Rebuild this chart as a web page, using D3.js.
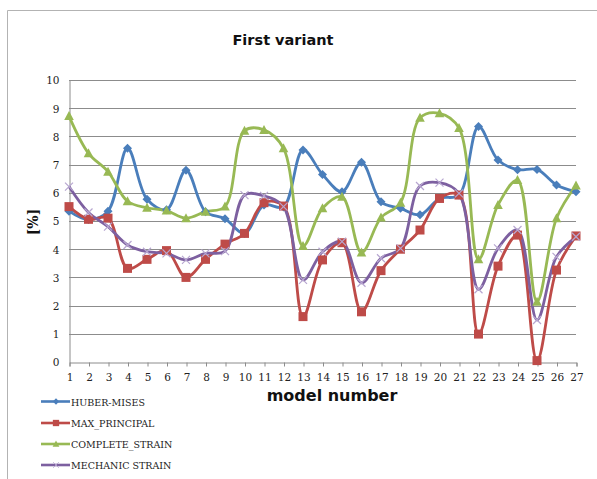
<!DOCTYPE html>
<html>
<head>
<meta charset="utf-8">
<script src="https://cdn.jsdelivr.net/npm/d3@7"></script>
<style>
  body { margin: 0; background: #fff; }
  svg { display: block; }
</style>
</head>
<body>
<svg id="chart" width="597" height="479"></svg>
<script>
// Model numbers on the x axis
const models = d3.range(1, 28);
const yTicks = [0, 1, 2, 3, 4, 5, 6, 7, 8, 9, 10];

// Series values [%]
const huberMises = [5.35, 5.05, 5.35, 7.58, 5.77, 5.4, 6.8, 5.33, 5.08, 4.56, 5.57, 5.5,
  7.52, 6.65, 6.04, 7.08, 5.68, 5.45, 5.22, 5.8, 5.92, 8.35, 7.16, 6.82, 6.83, 6.28, 6.04];
const maxPrincipal = [5.51, 5.06, 5.1, 3.32, 3.64, 3.95, 3.0, 3.64, 4.18, 4.56, 5.65, 5.53,
  1.61, 3.62, 4.23, 1.78, 3.24, 4.0, 4.68, 5.8, 5.92, 0.99, 3.4, 4.5, 0.05, 3.26, 4.47];
const completeStrain = [8.72, 7.4, 6.75, 5.7, 5.47, 5.37, 5.1, 5.33, 5.51, 8.2, 8.23, 7.58,
  4.11, 5.45, 5.86, 3.88, 5.12, 5.65, 8.66, 8.82, 8.3, 3.64, 5.57, 6.45, 2.14, 5.1, 6.26];
const mechanicStrain = [6.22, 5.3, 4.8, 4.15, 3.91, 3.85, 3.62, 3.85, 3.93, 5.92, 5.89, 5.51,
  2.91, 3.91, 4.27, 2.81, 3.68, 4.03, 6.24, 6.36, 5.98, 2.58, 4.03, 4.68, 1.49, 3.73, 4.44];

const seriesNames = ["HUBER-MISES", "MAX_PRINCIPAL", "COMPLETE_STRAIN", "MECHANIC STRAIN"];
const seriesColors = ["#4a7ebb", "#be4b48", "#98b954", "#7d60a0"];
const seriesSymbols = ["diamond", "square", "triangle", "cross"];
const seriesValues = [huberMises, maxPrincipal, completeStrain, mechanicStrain];

const SERIF = "font-family: 'DejaVu Serif', 'Liberation Serif', serif";

const svg = d3.select("#chart");

// Outer chart frame
svg.append("path")
  .attr("d", "M7.5,480 V10.5 H600")
  .attr("fill", "none")
  .attr("stroke", "#b3b3b3")
  .attr("stroke-width", 1);

const plot = { left: 69, right: 576, top: 80, bottom: 362 };

const x = d3.scaleLinear().domain([1, 27]).range([plot.left, plot.right]);
const y = d3.scaleLinear().domain([0, 10]).range([plot.bottom, plot.top]);

// Horizontal gridlines
svg.append("g")
  .selectAll("line")
  .data(yTicks.filter(d => d > 0))
  .join("line")
  .attr("x1", plot.left).attr("x2", plot.right)
  .attr("y1", d => Math.round(y(d)) + 0.5).attr("y2", d => Math.round(y(d)) + 0.5)
  .attr("stroke", "#8c8c8c")
  .attr("stroke-width", 1);

// Y axis
const yAxis = svg.append("g")
  .attr("transform", `translate(${plot.left + 0.5},0.5)`)
  .call(d3.axisLeft(y).tickValues(yTicks).tickSize(0).tickPadding(10).tickFormat(d3.format("d")));
yAxis.select(".domain").attr("stroke", "#8c8c8c");
yAxis.selectAll("text")
  .attr("style", SERIF)
  .attr("font-size", 10.5)
  .attr("fill", "#222");

// X axis
const xAxis = svg.append("g")
  .attr("transform", `translate(0.5,${plot.bottom + 0.5})`)
  .call(d3.axisBottom(x).tickValues(models).tickSize(4).tickPadding(7).tickFormat(d3.format("d")));
xAxis.select(".domain").attr("stroke", "#8c8c8c");
xAxis.selectAll(".tick line").attr("stroke", "#8c8c8c");
xAxis.selectAll("text")
  .attr("style", SERIF)
  .attr("font-size", 10.5)
  .attr("fill", "#222");

// Smoothed series lines
const line = d3.line()
  .x((d, i) => x(models[i]))
  .y(d => y(d))
  .curve(d3.curveCatmullRom.alpha(0.5));

seriesValues.forEach((vals, s) => {
  svg.append("path")
    .datum(vals)
    .attr("d", line)
    .attr("fill", "none")
    .attr("stroke", seriesColors[s])
    .attr("stroke-width", 2.8)
    .attr("stroke-linejoin", "round");
});

// Marker shapes
function marker(g, kind, color) {
  if (kind === "diamond") {
    g.append("path").attr("d", "M0,-4.5 L4.5,0 L0,4.5 L-4.5,0 Z").attr("fill", color);
  } else if (kind === "square") {
    g.append("rect").attr("x", -4.5).attr("y", -4.5).attr("width", 9).attr("height", 9).attr("fill", color);
  } else if (kind === "triangle") {
    g.append("path").attr("d", "M0,-5 L4.8,4 L-4.8,4 Z").attr("fill", color);
  } else {
    g.append("path").attr("d", "M-4,-4 L4,4 M-4,4 L4,-4")
      .attr("stroke", "#b7a6d0").attr("stroke-width", 1.2).attr("fill", "none");
  }
}

seriesValues.forEach((vals, s) => {
  vals.forEach((v, i) => {
    const g = svg.append("g").attr("transform", `translate(${x(models[i])},${y(v)})`);
    marker(g, seriesSymbols[s], seriesColors[s]);
  });
});

// Title
svg.append("text")
  .attr("x", 283).attr("y", 45)
  .attr("text-anchor", "middle")
  .attr("font-family", "'DejaVu Sans', sans-serif")
  .attr("font-weight", "bold")
  .attr("font-size", 14.5)
  .attr("fill", "#111")
  .text("First variant");

// Axis titles
svg.append("text")
  .attr("x", 332).attr("y", 401)
  .attr("text-anchor", "middle")
  .attr("font-family", "'DejaVu Sans', sans-serif")
  .attr("font-weight", "bold")
  .attr("font-size", 16)
  .attr("fill", "#111")
  .text("model number");

svg.append("text")
  .attr("style", SERIF)
  .attr("transform", "translate(38,222) rotate(-90)")
  .attr("text-anchor", "middle")
  .attr("font-weight", "bold")
  .attr("font-size", 14)
  .attr("fill", "#111")
  .text("[%]");

// Legend
const legendY = [401.5, 423, 444, 465];
seriesNames.forEach((name, s) => {
  const g = svg.append("g").attr("transform", `translate(0,${legendY[s]})`);
  g.append("line").attr("x1", 41).attr("x2", 70).attr("y1", 0).attr("y2", 0)
    .attr("stroke", seriesColors[s]).attr("stroke-width", 2.6);
  const m = g.append("g").attr("transform", "translate(56,0) scale(0.7)");
  marker(m, seriesSymbols[s], seriesColors[s]);
  g.append("text").attr("style", SERIF).attr("x", 71).attr("y", 4)
    .attr("font-size", 9.5)
    .attr("fill", "#222")
    .text(name);
});
</script>
</body>
</html>
